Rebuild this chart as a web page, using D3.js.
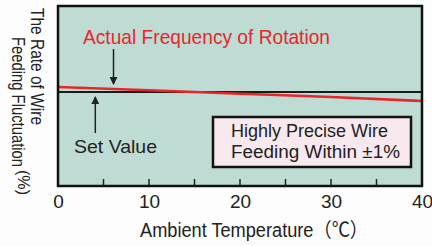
<!DOCTYPE html>
<html>
<head>
<meta charset="utf-8">
<script src="https://cdn.jsdelivr.net/npm/d3@7"></script>
<style>
    body { margin: 0; background: #fdfdfd; }
    text { font-family: "Liberation Sans", Arial, "Noto Sans CJK JP", sans-serif; fill: #222; }
</style>
</head>
<body>
<div id="chart"></div>
<script>
    // ambient temperature (deg C) and wire feeding deviation (%)
    const temps = [0, 10, 20, 30, 40];
    const actual = [0.10, 0.035, -0.035, -0.10, -0.18];
    const setValue = [0, 0, 0, 0, 0];
    const xTicks = [0, 10, 20, 30, 40];
    const minorTicks = [5, 10, 15, 20, 25, 30, 35];

    const width = 432, height = 246;
    const plotL = 58, plotR = 422, plotT = 6, plotB = 186;

    const svg = d3.select("#chart").append("svg").attr("width", width).attr("height", height);

    const x = d3.scaleLinear().domain([0, 40]).range([plotL, plotR]);
    const y = d3.scaleLinear().domain([-1.88, 1.72]).range([plotB, plotT]);

    // the original lettering is a tall, narrow gothic face, so squeeze to the measured widths
    function label(parent, px, py, size, len, str) {
        return parent.append("text").attr("x", px).attr("y", py).attr("font-size", size)
            .attr("textLength", len).attr("lengthAdjust", "spacingAndGlyphs").text(str);
    }

    // plot background
    svg.append("rect").attr("x", plotL).attr("y", plotT).attr("width", plotR - plotL).attr("height", plotB - plotT)
        .attr("fill", "#bedbd4");

    // small ticks standing up from the bottom edge
    svg.selectAll(".minor").data(minorTicks).enter().append("line")
        .attr("x1", d => x(d)).attr("x2", d => x(d))
        .attr("y1", plotB).attr("y2", plotB - 7)
        .attr("stroke", "#222").attr("stroke-width", 1.5);

    const line = d3.line().x((d, i) => x(temps[i])).y(d => y(d)).curve(d3.curveMonotoneX);

    svg.append("path").attr("d", line(setValue)).attr("fill", "none")
        .attr("stroke", "#1a1a1a").attr("stroke-width", 2.2);
    svg.append("path").attr("d", line(actual)).attr("fill", "none")
        .attr("stroke", "#e8262a").attr("stroke-width", 2.6);

    // frame
    svg.append("rect").attr("x", plotL).attr("y", plotT).attr("width", plotR - plotL).attr("height", plotB - plotT)
        .attr("fill", "none").attr("stroke", "#111").attr("stroke-width", 2.5);

    // x axis labels
    const xAxis = d3.axisBottom(x).tickValues(xTicks).tickSize(0).tickPadding(8).tickFormat(d3.format("d"));
    const ax = svg.append("g").attr("transform", "translate(0," + (plotB + 1) + ")").call(xAxis);
    ax.select(".domain").remove();
    ax.selectAll("text").attr("font-size", 19).style("fill", "#222")
        .style("font-family", "Liberation Sans, Arial, sans-serif");

    label(svg, 140, 237, 20, 228, "Ambient Temperature（℃）");

    // y label, rotated
    const yl = svg.append("g").attr("transform", "translate(31,8) rotate(90)");
    label(yl, 0, 0, 19, 117, "The Rate of Wire");
    label(yl, 29, 19, 19, 130, "Feeding Fluctuation");
    label(yl, 162, 13, 16, 25, "(%)");

    // arrow marker
    const defs = svg.append("defs");
    defs.append("marker").attr("id", "arrow").attr("markerWidth", 8).attr("markerHeight", 8)
        .attr("refX", 7).attr("refY", 4).attr("orient", "auto").attr("markerUnits", "userSpaceOnUse")
        .append("path").attr("d", "M0,0 L8,4 L0,8 z").attr("fill", "#222");

    // annotations
    label(svg, 83, 44, 21, 247, "Actual Frequency of Rotation").style("fill", "#e8262a");
    svg.append("line").attr("x1", x(6.1)).attr("x2", x(6.1)).attr("y1", 49).attr("y2", 84)
        .attr("stroke", "#222").attr("stroke-width", 1.5).attr("marker-end", "url(#arrow)");

    label(svg, 74, 153, 19, 83, "Set Value");
    svg.append("line").attr("x1", x(4.1)).attr("x2", x(4.1)).attr("y1", 133).attr("y2", 97)
        .attr("stroke", "#222").attr("stroke-width", 1.5).attr("marker-end", "url(#arrow)");

    // callout box
    svg.append("rect").attr("x", 213).attr("y", 117).attr("width", 198).attr("height", 50)
        .attr("fill", "#f8e9ee").attr("stroke", "#111").attr("stroke-width", 2.5);
    label(svg, 231, 137, 18, 157, "Highly Precise Wire");
    label(svg, 231, 158, 18, 169, "Feeding Within ±1%");
</script>
</body>
</html>
